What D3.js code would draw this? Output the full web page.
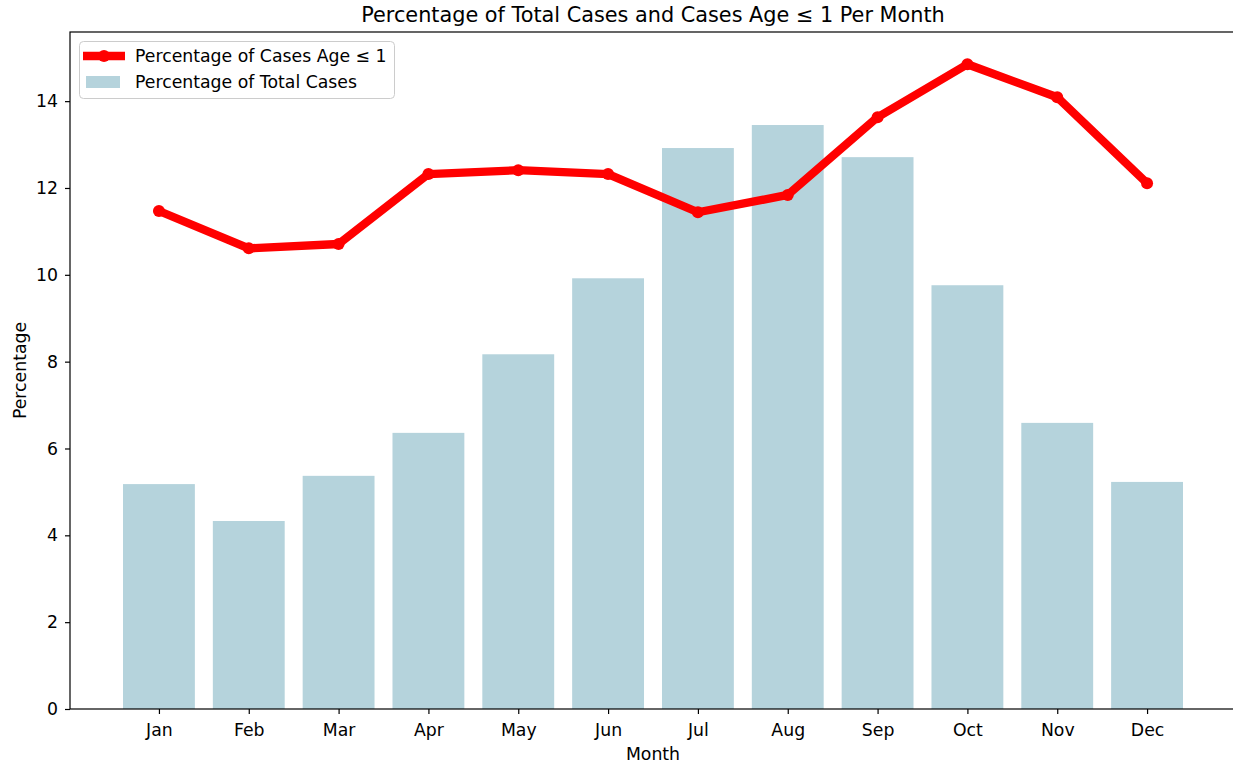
<!DOCTYPE html>
<html><head><meta charset="utf-8">
<script src="https://cdn.jsdelivr.net/npm/d3@7"></script>
<style>body{margin:0;background:#fff}svg{display:block}text{font-family:"DejaVu Sans",sans-serif;fill:#000}</style>
</head><body>
<svg id="c" width="1233" height="765"></svg>
<script>
const months = ["Jan","Feb","Mar","Apr","May","Jun","Jul","Aug","Sep","Oct","Nov","Dec"];
const totalPct = [5.18,4.33,5.37,6.36,8.17,9.92,12.92,13.45,12.71,9.76,6.59,5.23];
const agePct = [11.47,10.61,10.71,12.32,12.41,12.32,11.44,11.84,13.63,14.85,14.09,12.11];
const yTicks = [0,2,4,6,8,10,12,14];

const svg = d3.select("#c");
const L = 70, R = 1236, T = 32, B = 709;
const FS = 17.3;
const x = d3.scaleLinear().domain([-0.99, 11.99]).range([L, R]);
const y = d3.scaleLinear().domain([0, 14.85*1.05]).range([B, T]);
const bw = x(0.8) - x(0);

svg.append("g").selectAll("rect").data(totalPct).join("rect")
  .attr("x", (d,i)=>x(i-0.4)).attr("width", bw)
  .attr("y", d=>y(d)).attr("height", d=>B-y(d))
  .attr("fill", "#b5d3dc");

const line = d3.line().x((d,i)=>x(i)).y(d=>y(d));
svg.append("path").datum(agePct).attr("d", line)
  .attr("fill","none").attr("stroke","#ff0000").attr("stroke-width",8.3).attr("stroke-linejoin","round");
svg.append("g").selectAll("circle").data(agePct).join("circle")
  .attr("cx",(d,i)=>x(i)).attr("cy",d=>y(d)).attr("r",6).attr("fill","#ff0000");

// axes
const xAxis = d3.axisBottom(x).tickValues(d3.range(12)).tickFormat(i=>months[i]).tickSize(5).tickPadding(10);
const gx = svg.append("g").attr("transform",`translate(0,${B})`).call(xAxis);
const yAxis = d3.axisLeft(y).tickValues(yTicks).tickSize(5).tickPadding(7);
const gy = svg.append("g").attr("transform",`translate(${L},0)`).call(yAxis);
[gx,gy].forEach(g=>{g.select(".domain").remove();g.selectAll("line").attr("stroke","#000").attr("stroke-width",1.2);g.selectAll("text").attr("font-size",FS).attr("font-family","DejaVu Sans");});
svg.append("rect").attr("x",L).attr("y",T).attr("width",R-L).attr("height",B-T)
  .attr("fill","none").attr("stroke","#000").attr("stroke-width",1.2);

svg.append("text").attr("x",(L+R)/2).attr("y",22).attr("text-anchor","middle").attr("font-size",20.8)
  .text("Percentage of Total Cases and Cases Age ≤ 1 Per Month");
svg.append("text").attr("x",(L+R)/2).attr("y",760).attr("text-anchor","middle").attr("font-size",FS).text("Month");
svg.append("text").attr("transform",`translate(26,${(T+B)/2}) rotate(-90)`).attr("text-anchor","middle").attr("font-size",FS).text("Percentage");

// legend
const lg = svg.append("g");
lg.append("rect").attr("x",79.5).attr("y",41.5).attr("width",315).attr("height",57).attr("rx",4)
  .attr("fill","#fff").attr("fill-opacity",0.8).attr("stroke","#cccccc");
lg.append("line").attr("x1",83).attr("x2",125).attr("y1",56).attr("y2",56).attr("stroke","#ff0000").attr("stroke-width",8.3);
lg.append("circle").attr("cx",104).attr("cy",56).attr("r",6).attr("fill","#ff0000");
lg.append("rect").attr("x",86).attr("y",76).attr("width",34).attr("height",12).attr("fill","#b5d3dc");
lg.append("text").attr("x",135).attr("y",62).attr("font-size",FS).text("Percentage of Cases Age ≤ 1");
lg.append("text").attr("x",135).attr("y",88).attr("font-size",FS).text("Percentage of Total Cases");
</script>
</body></html>
